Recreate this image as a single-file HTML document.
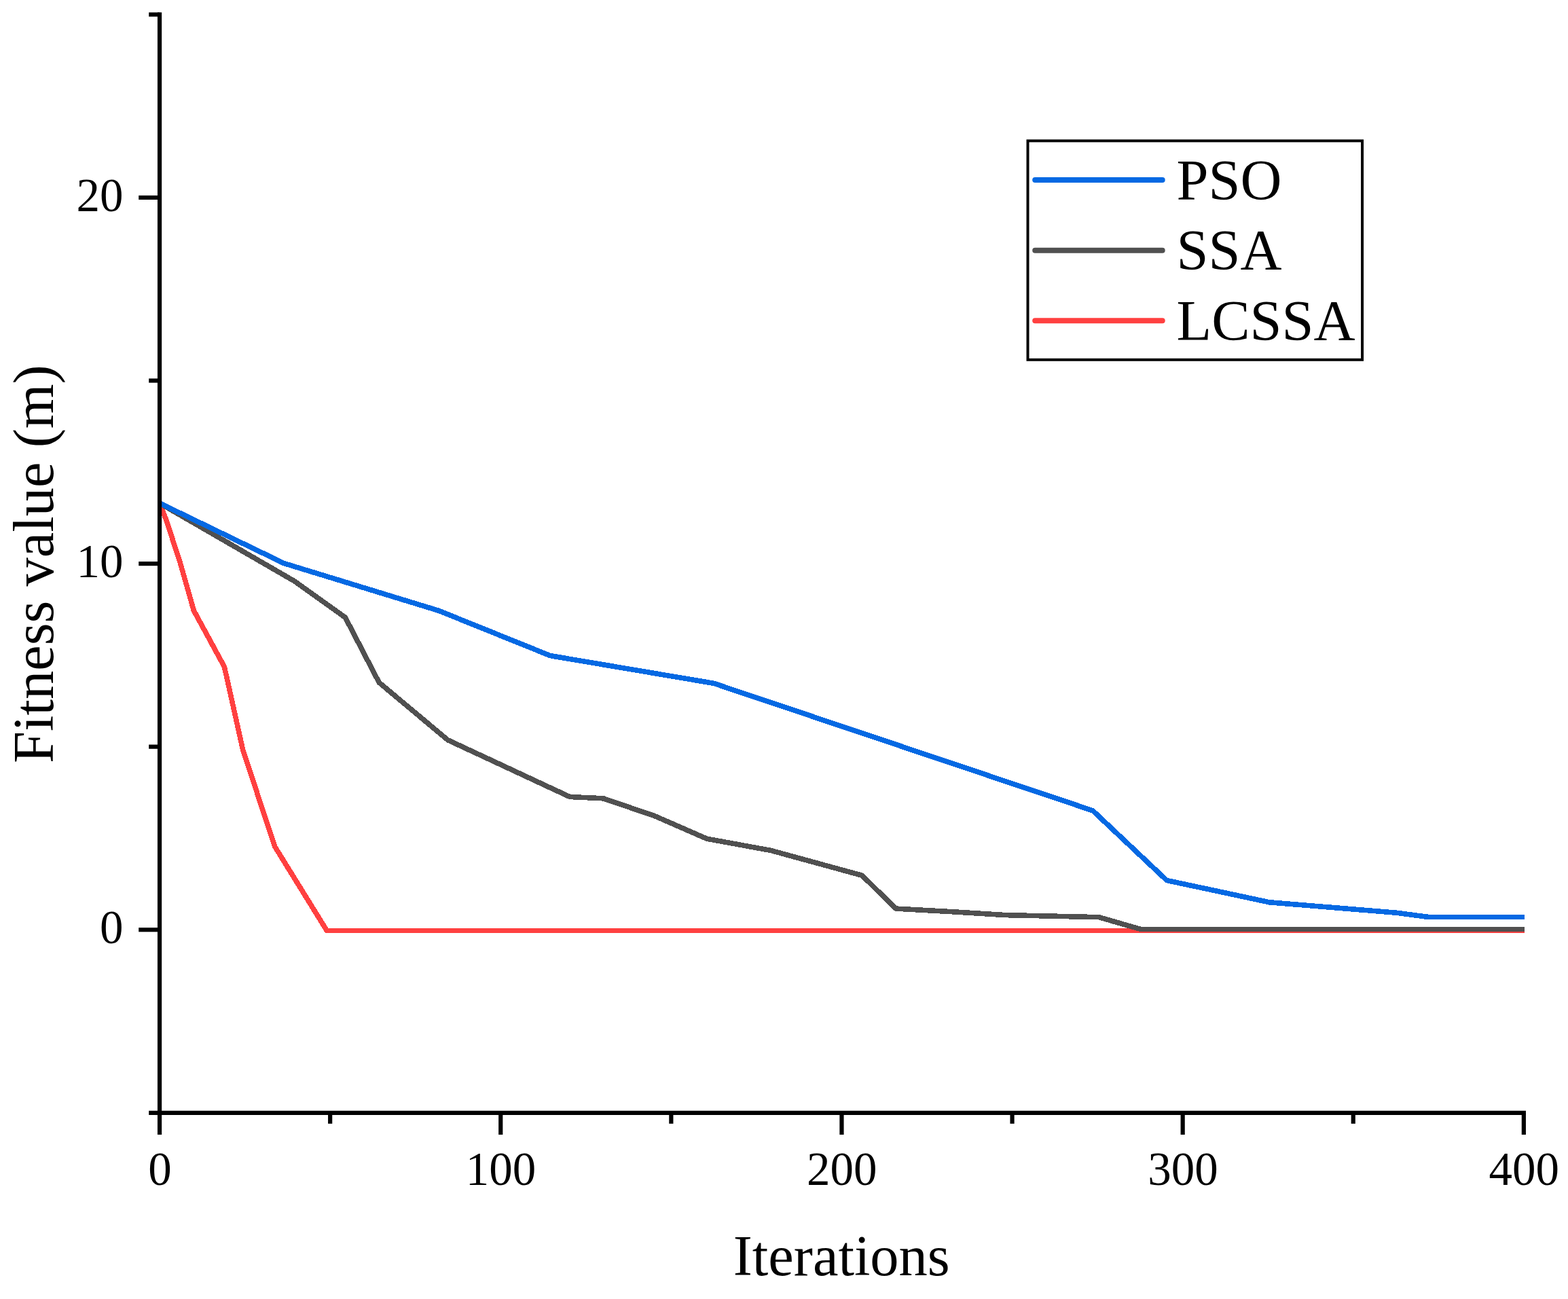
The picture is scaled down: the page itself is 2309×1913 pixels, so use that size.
<!DOCTYPE html>
<html lang="en">
<head>
<meta charset="utf-8">
<title>Fitness value vs Iterations</title>
<style>
html,body{margin:0;padding:0;background:#fff;}
body{width:2309px;height:1913px;overflow:hidden;}
svg{display:block;}
text{font-family:"Liberation Serif","Times New Roman",Times,serif;fill:#000;}
.tick{font-size:69px;}
.lab{font-size:84.5px;}
</style>
</head>
<body>
<svg width="2309" height="1913" viewBox="0 0 2309 1913">
<rect x="0" y="0" width="2309" height="1913" fill="#ffffff"/>
<defs><clipPath id="plot"><rect x="235.05" y="0" width="2009.85" height="1640"/></clipPath></defs>
<g fill="none" stroke-width="7.6" stroke-linejoin="round" stroke-linecap="butt" shape-rendering="crispEdges" clip-path="url(#plot)">
<polyline stroke="#FF4040" points="235.00,741.00 244.40,764.50 265.70,830.00 285.30,899.00 330.40,982.00 357.60,1104.00 404.50,1246.40 481.20,1370.35 2244.90,1370.35"/>
<polyline stroke="#505050" points="235.00,741.00 434.00,856.10 508.50,909.40 558.20,1005.10 659.30,1089.70 839.10,1173.50 888.50,1175.80 964.40,1201.80 1040.80,1235.20 1135.00,1252.40 1269.40,1289.20 1319.20,1338.10 1400.00,1342.60 1480.40,1347.60 1618.20,1350.70 1679.50,1368.40 2244.90,1368.40"/>
<polyline stroke="#0569E3" points="235.00,741.00 418.20,829.60 646.00,899.30 810.30,965.60 1051.00,1006.30 1609.20,1193.80 1718.20,1296.50 1869.30,1328.80 2056.00,1344.20 2103.80,1350.50 2244.90,1350.50"/>
</g>
<g stroke="#000" stroke-width="6.2" fill="none" stroke-linecap="butt">
<line x1="235.05" y1="18.30" x2="235.05" y2="1671.00"/>
<line x1="219.20" y1="1638.80" x2="2246.95" y2="1638.80"/>
<line x1="204.2" y1="1369.23" x2="235.05" y2="1369.23"/>
<line x1="204.2" y1="830.10" x2="235.05" y2="830.10"/>
<line x1="204.2" y1="290.97" x2="235.05" y2="290.97"/>
<line x1="219.2" y1="1099.67" x2="235.05" y2="1099.67"/>
<line x1="219.2" y1="560.53" x2="235.05" y2="560.53"/>
<line x1="219.2" y1="21.40" x2="235.05" y2="21.40"/>
<line x1="737.25" y1="1638.80" x2="737.25" y2="1671"/>
<line x1="1239.45" y1="1638.80" x2="1239.45" y2="1671"/>
<line x1="1741.65" y1="1638.80" x2="1741.65" y2="1671"/>
<line x1="2243.85" y1="1638.80" x2="2243.85" y2="1671"/>
<line x1="486.15" y1="1638.80" x2="486.15" y2="1654.8"/>
<line x1="988.35" y1="1638.80" x2="988.35" y2="1654.8"/>
<line x1="1490.55" y1="1638.80" x2="1490.55" y2="1654.8"/>
<line x1="1992.75" y1="1638.80" x2="1992.75" y2="1654.8"/>
</g>
<g class="tick" text-anchor="end">
<text x="181.4" y="1389.4">0</text>
<text x="181.4" y="850.3">10</text>
<text x="181.4" y="311.2">20</text>
</g>
<g class="tick" text-anchor="middle">
<text x="235.4" y="1745.2">0</text>
<text x="737.5" y="1745.2">100</text>
<text x="1239.8" y="1745.2">200</text>
<text x="1741.9" y="1745.2">300</text>
<text x="2244.2" y="1745.2">400</text>
</g>
<text class="lab" text-anchor="middle" x="1239.2" y="1877.9">Iterations</text>
<text class="lab" text-anchor="middle" transform="translate(78.1 830.7) rotate(-90)">Fitness value (m)</text>
<rect x="1513.5" y="207.4" width="492.55" height="322.4" fill="#fff" stroke="#000" stroke-width="4"/>
<g fill="none" stroke-width="8" stroke-linecap="round">
<line stroke="#0569E3" x1="1524.2" y1="264.9" x2="1711.7" y2="264.9"/>
<line stroke="#505050" x1="1524.2" y1="368.7" x2="1711.7" y2="368.7"/>
<line stroke="#FF4040" x1="1524.2" y1="472.3" x2="1711.7" y2="472.3"/>
</g>
<g class="lab">
<text x="1732.6" y="294.2">PSO</text>
<text x="1732.6" y="396.6">SSA</text>
<text x="1732.6" y="500.6">LCSSA</text>
</g>
</svg>
</body>
</html>
